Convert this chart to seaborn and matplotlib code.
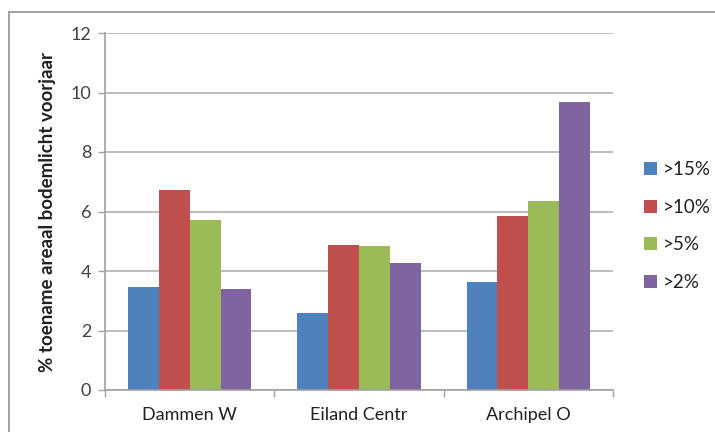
import matplotlib
matplotlib.use("Agg")
import matplotlib.pyplot as plt
import seaborn as sns
import pandas as pd
from matplotlib.patches import Rectangle

# Data
categories = ["Dammen W", "Eiland Centr", "Archipel O"]
series = [">15%", ">10%", ">5%", ">2%"]
vals_15 = [3.45, 2.58, 3.62]
vals_10 = [6.72, 4.86, 5.85]
vals_5 = [5.70, 4.83, 6.36]
vals_2 = [3.38, 4.26, 9.67]
yticks = [0, 2, 4, 6, 8, 10, 12]
ylabel = "% toename areaal bodemlicht voorjaar"

colors = ["#4F81BD", "#C0504D", "#9BBB59", "#8064A2"]

rows = []
for s, vals in zip(series, [vals_15, vals_10, vals_5, vals_2]):
    for c, v in zip(categories, vals):
        rows.append({"gebied": c, "klasse": s, "waarde": v})
df = pd.DataFrame(rows)

sns.set_theme(style="white")
plt.rcParams["font.family"] = ["Lato", "DejaVu Sans"]

fig = plt.figure(figsize=(7.15, 4.32), dpi=100)
ax = fig.add_axes([105 / 715, 42 / 432, 508 / 715, 357 / 432])

sns.barplot(data=df, x="gebied", y="waarde", hue="klasse", order=categories,
            hue_order=series, palette=colors, width=0.73, saturation=1,
            edgecolor="none", linewidth=0, ax=ax, legend=True)

ax.set_ylim(0, 12)
ax.set_xlim(-0.5, 2.5)
ax.set_yticks(yticks)
ax.set_yticklabels([str(t) for t in yticks], fontsize=13, color="#404040")
ax.yaxis.grid(True, color="#B0B0B0", linewidth=1.2)
ax.set_axisbelow(True)
ax.set_xlabel("")
ax.set_ylabel(ylabel, fontsize=13.5, fontweight="bold", color="#202020", labelpad=10)
ax.tick_params(axis="x", length=0, pad=12, labelsize=13, labelcolor="#202020")
ax.tick_params(axis="y", length=5, width=1, color="#A0A0A0", left=True, pad=5)

for side in ["top", "right"]:
    ax.spines[side].set_visible(False)
for side in ["left", "bottom"]:
    ax.spines[side].set_color("#A0A0A0")
    ax.spines[side].set_linewidth(1.2)

# small separator ticks between the groups on the category axis
ax.set_xticks([-0.5, 0.5, 1.5, 2.5], minor=True)
ax.tick_params(axis="x", which="minor", length=5, width=1, color="#A0A0A0", bottom=True)

handles, labels = ax.get_legend_handles_labels()
ax.legend(handles, labels, loc="center left", bbox_to_anchor=(644 / 715, (432 - 226) / 432),
          bbox_transform=fig.transFigure, frameon=False, fontsize=13.5,
          borderpad=0, borderaxespad=0,
          handlelength=0.7, handleheight=0.7, handletextpad=0.3,
          labelspacing=1.1, labelcolor="#202020")

# outer chart frame
fig.patches.append(Rectangle((9 / 715, -0.05), 1.0, (432 - 12) / 432 + 0.05,
                             transform=fig.transFigure, fill=False,
                             edgecolor="#9A9A9A", linewidth=1.3))

fig.savefig("out.png", dpi=100, facecolor="white")
